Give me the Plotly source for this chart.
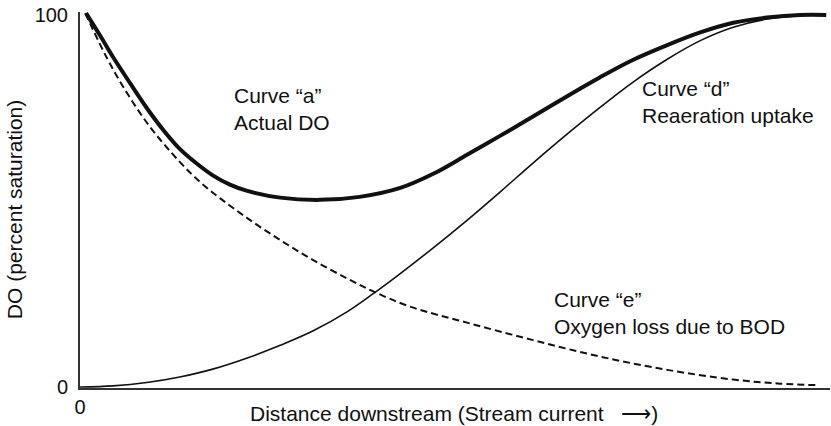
import plotly.graph_objects as go

# Dissolved-oxygen sag along a stream (percent saturation vs. distance)
curve_a_x = [0.8, 2.7, 4.4, 6.7, 8.9, 11.1, 13.3, 15.6, 17.7, 20.0, 22.3,
             26.7, 32.0, 37.3, 42.7, 47.1, 51.6, 56.0, 60.4,
             64.9, 69.3, 73.7, 78.3, 82.7, 87.1, 91.6, 96.0, 99.5]
curve_a_y = [100.5, 94.4, 88.7, 81.6, 75.0, 69.1, 64.0, 60.0, 56.9, 54.4, 52.7,
             50.9, 50.3, 51.1, 53.5, 57.3, 62.4, 67.5, 72.7,
             78.1, 83.2, 87.9, 91.9, 95.3, 97.9, 99.3, 100.0, 100.0]

curve_d_x = [0.0, 4.4, 8.9, 13.3, 17.7, 22.3, 26.7, 31.1, 35.6, 39.1, 42.7, 47.1,
             51.6, 56.0, 60.4, 64.9, 69.3, 73.7, 78.3, 82.7, 87.1, 91.6, 96.0]
curve_d_y = [0.0, 0.3, 1.2, 2.7, 4.8, 7.8, 11.2, 15.1, 20.2, 25.1, 30.5, 37.4,
             44.8, 52.4, 60.2, 67.9, 75.1, 81.9, 88.1, 93.1, 96.7, 98.9, 99.9]

curve_e_x = [0.7, 4.4, 8.9, 13.3, 16.0, 18.7, 22.3, 26.7, 31.1, 35.6, 39.1, 44.0,
             51.6, 60.4, 69.3, 78.3, 87.1, 93.3, 98.3]
curve_e_y = [100.5, 85.4, 71.1, 60.5, 55.1, 50.7, 45.4, 39.5, 34.1, 29.2, 25.7, 21.6,
             17.3, 12.6, 8.2, 4.6, 2.0, 0.9, 0.5]

y_tick_vals = [0, 100]
y_tick_text = ["0", "100"]
x_tick_vals = [0]
x_tick_text = ["0"]

FONT = "Arial, Liberation Sans, Helvetica, sans-serif"
INK = "#111111"

fig = go.Figure()
fig.add_trace(go.Scatter(x=curve_e_x, y=curve_e_y, mode="lines",
                         line=dict(color=INK, width=2, dash="7px,4px", shape="spline", smoothing=1)))
fig.add_trace(go.Scatter(x=curve_d_x, y=curve_d_y, mode="lines",
                         line=dict(color=INK, width=1.6, shape="spline", smoothing=1)))
fig.add_trace(go.Scatter(x=curve_a_x, y=curve_a_y, mode="lines",
                         line=dict(color=INK, width=4, shape="spline", smoothing=1)))

label_font = dict(family=FONT, size=21, color=INK)
labels = [
    (20.3, 74.6, "Curve “a”<br>Actual DO"),
    (74.7, 76.5, "Curve “d”<br>Reaeration uptake"),
    (62.9, 20.0, "Curve “e”<br>Oxygen loss due to BOD"),
]
for lx, ly, txt in labels:
    fig.add_annotation(x=lx, y=ly, xref="x", yref="y", text=txt, showarrow=False,
                       xanchor="left", yanchor="middle", align="left", font=label_font)

fig.add_annotation(x=0.498, y=-0.068, xref="paper", yref="paper",
                   text="Distance downstream (Stream current\u00a0\u00a0\u00a0⟶)",
                   showarrow=False, xanchor="center", yanchor="middle", font=label_font)
fig.add_annotation(x=-0.088, y=0.473, xref="paper", yref="paper",
                   text="DO (percent saturation)", textangle=-90,
                   showarrow=False, xanchor="center", yanchor="middle", font=label_font)

fig.update_layout(
    width=831, height=426,
    margin=dict(l=80, r=1, t=12, b=38),
    paper_bgcolor="white", plot_bgcolor="white",
    showlegend=False,
    font=dict(family=FONT, size=20, color=INK),
)
fig.update_xaxes(range=[0, 100], showgrid=False, zeroline=False,
                 showline=True, linecolor="#333333", linewidth=2,
                 tickvals=x_tick_vals, ticktext=x_tick_text, ticks="")
fig.update_yaxes(range=[-0.27, 100.8], showgrid=False, zeroline=False,
                 showline=True, linecolor="#333333", linewidth=2,
                 tickvals=y_tick_vals, ticktext=y_tick_text, ticks="",
                 ticklabelstandoff=6)

fig.write_html("out.html")
